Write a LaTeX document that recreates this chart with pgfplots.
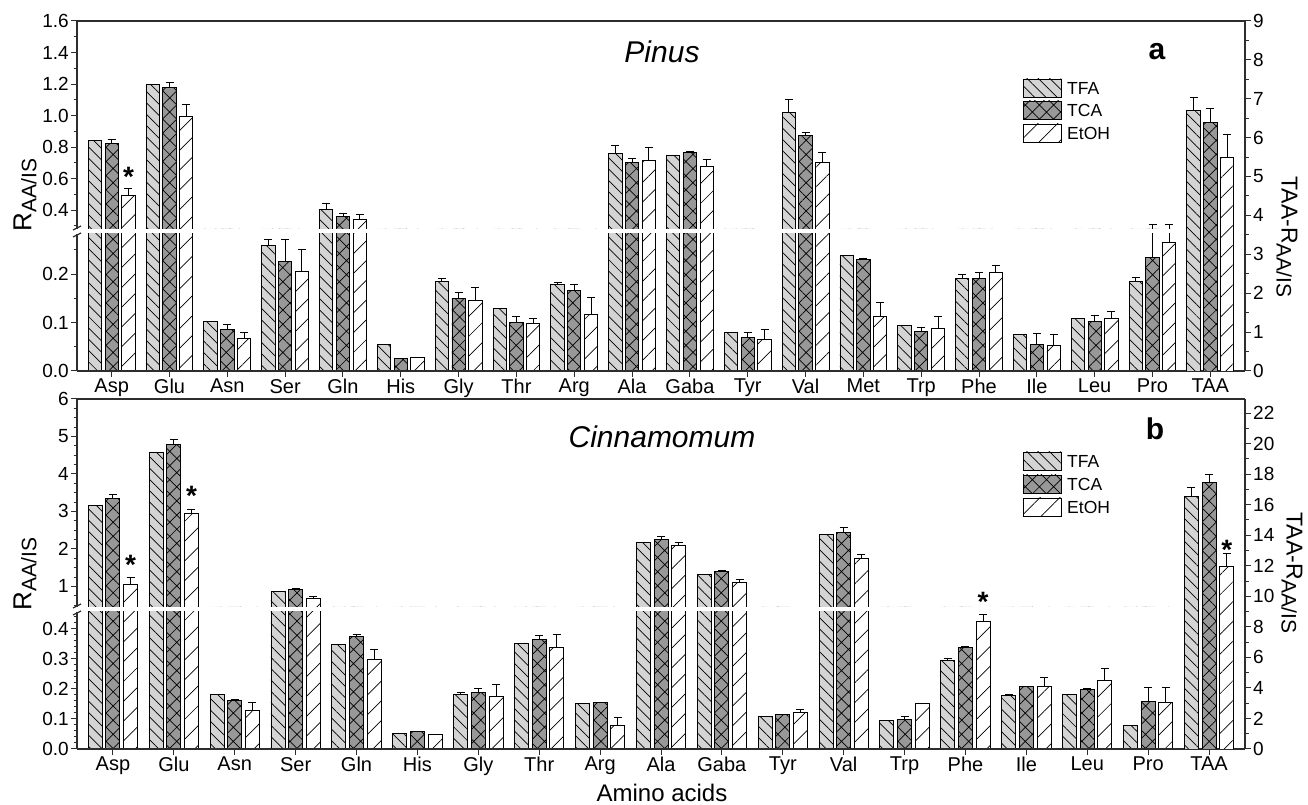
\documentclass[border=0pt]{standalone}
\usepackage{fontspec}
\setmainfont{Liberation Sans}
\usepackage{pgfplots}
\pgfplotsset{compat=1.18}
\usepackage{pgfplotstable}
\usetikzlibrary{patterns.meta}

\definecolor{tfagray}{RGB}{212,212,212}
\definecolor{tcagray}{RGB}{152,152,152}
\definecolor{axgray}{RGB}{45,45,45}

% Pinus (left axis, R_AA/IS)
\pgfplotstableread{
x a ae b be c ce
0 0.840 0.000 0.820 0.030 0.494 0.045
1 1.196 0.000 1.180 0.028 0.995 0.078
2 0.102 0.000 0.085 0.012 0.067 0.012
3 0.258 0.014 0.225 0.047 0.205 0.045
4 0.402 0.040 0.357 0.022 0.343 0.027
5 0.054 0.000 0.026 0.000 0.027 0.000
6 0.184 0.007 0.150 0.011 0.145 0.027
7 0.128 0.000 0.100 0.013 0.098 0.010
8 0.179 0.004 0.166 0.012 0.117 0.034
9 0.759 0.051 0.704 0.026 0.715 0.085
10 0.745 0.000 0.768 0.003 0.674 0.045
11 0.080 0.000 0.069 0.010 0.065 0.020
12 1.019 0.085 0.872 0.019 0.702 0.062
13 0.238 0.000 0.230 0.002 0.112 0.029
14 0.093 0.000 0.081 0.008 0.088 0.024
15 0.190 0.010 0.190 0.013 0.204 0.014
16 0.076 0.000 0.055 0.023 0.052 0.024
17 0.109 0.000 0.103 0.011 0.108 0.014
18 0.184 0.008 0.234 0.073 0.265 0.043
}\pinus
% Pinus TAA (right axis)
\pgfplotstableread{
x a ae b be c ce
19 6.70 0.33 6.39 0.36 5.50 0.59
}\pinusT
% Cinnamomum (left axis)
\pgfplotstableread{
x a ae b be c ce
0 3.170 0.000 3.350 0.100 1.064 0.170
1 4.570 0.000 4.790 0.140 2.940 0.100
2 0.181 0.000 0.161 0.002 0.127 0.026
3 0.858 0.000 0.910 0.040 0.690 0.040
4 0.348 0.000 0.374 0.006 0.298 0.033
5 0.051 0.000 0.058 0.000 0.049 0.000
6 0.182 0.006 0.189 0.011 0.173 0.040
7 0.352 0.000 0.364 0.012 0.338 0.041
8 0.152 0.000 0.153 0.002 0.078 0.028
9 2.170 0.000 2.260 0.080 2.100 0.060
10 1.310 0.000 1.410 0.010 1.107 0.070
11 0.109 0.000 0.116 0.000 0.120 0.010
12 2.380 0.000 2.450 0.110 1.750 0.090
13 0.095 0.000 0.098 0.009 0.150 0.000
14 0.295 0.005 0.338 0.002 0.425 0.022
15 0.178 0.004 0.207 0.000 0.207 0.030
16 0.181 0.000 0.199 0.002 0.226 0.043
17 0.078 0.000 0.158 0.048 0.153 0.051
}\cinn
\pgfplotstableread{
x a ae b be c ce
18 16.54 0.59 17.44 0.54 11.94 0.87
}\cinnT

\tikzset{
  tfa/.style={draw=black, line width=0.9pt, fill=tfagray,
    postaction={pattern={Lines[angle=-45,distance=8pt,line width=0.7pt]}}},
  tca/.style={draw=black, line width=0.9pt, fill=tcagray,
    postaction={pattern={Hatch[angle=45,distance=10pt,line width=0.7pt]}}},
  eth/.style={draw=black, line width=0.9pt, fill=white,
    postaction={pattern={Lines[angle=45,distance=14pt,line width=0.7pt]}}},
  star/.style={font=\bfseries\fontsize{28}{28}\selectfont, anchor=base, inner sep=0pt, yshift=-16pt},
}

\pgfplotsset{
  common/.style={scale only axis, width=1168pt, enlargelimits=false, clip=true, axis on top,
    axis line style={line width=1.3pt, draw=axgray},
    yticklabel style={font=\fontsize{19}{19}\selectfont, inner sep=2pt},
    xticklabel style={font=\fontsize{20}{20}\selectfont, inner sep=2pt},
  },
  ticks/.style={tick align=outside, major tick length=6pt, minor tick length=3.5pt,
    every tick/.style={line width=1pt, draw=axgray}},
  eb/.style={draw=none, mark=none, forget plot, error bars/.cd, y dir=plus, y explicit,
    error bar style={line width=0.9pt, draw=black, solid},
    error mark options={rotate=90, mark size=4pt, line width=0.9pt, draw=black, solid}},
  TF/.style={ybar, bar width=0.23, bar shift=-0.29, tfa},
  TC/.style={ybar, bar width=0.23, bar shift=0, tca},
  TE/.style={ybar, bar width=0.23, bar shift=0.29, eth},
}

\newcommand{\allbars}[1]{%
  \addplot[TF] table[x=x,y=a]{#1};
  \addplot[TC] table[x=x,y=b]{#1};
  \addplot[TE] table[x=x,y=c]{#1};
  \addplot[eb] table[x expr=\thisrow{x}-0.29,y=a,y error=ae]{#1};
  \addplot[eb] table[x=x,y=b,y error=be]{#1};
  \addplot[eb] table[x expr=\thisrow{x}+0.29,y=c,y error=ce]{#1};
}

\begin{document}
\begin{tikzpicture}
\useasboundingbox (0,0) rectangle (1308pt,805pt);

% ================= Panel a: Pinus =================
% upper segment
\begin{axis}[common, at={(77pt,576pt)}, anchor=south west, height=208pt,
  xmin=-0.6, xmax=19.6, ymin=0.28, ymax=1.6,
  axis x line*=top, axis y line*=left, ticks, xtick=\empty,
  ytick={0.4,0.6,0.8,1.0,1.2,1.4,1.6}, yticklabels={0.4,0.6,0.8,1.0,1.2,1.4,1.6},
  minor ytick={0.3,0.5,0.7,0.9,1.1,1.3,1.5}]
  \allbars{\pinus}
  \node[star] at (axis cs:0.29,0.649) {*};
\end{axis}
% lower segment
\begin{axis}[common, at={(77pt,434pt)}, anchor=south west, height=137pt,
  xmin=-0.6, xmax=19.6, ymin=0, ymax=0.2825,
  axis x line*=bottom, axis y line*=left, ticks,
  xtick={0,...,19},
  xticklabels={Asp,Glu,Asn,Ser,Gln,His,Gly,Thr,Arg,Ala,Gaba,Tyr,Val,Met,Trp,Phe,Ile,Leu,Pro,TAA},
  ytick={0,0.1,0.2}, yticklabels={0.0,0.1,0.2}, minor ytick={0.05,0.15,0.25}]
  \allbars{\pinus}
\end{axis}
% right axis (TAA)
\begin{axis}[common, at={(77pt,434pt)}, anchor=south west, height=350pt,
  xmin=-0.6, xmax=19.6, ymin=0, ymax=9,
  axis x line=none, axis y line*=right, ticks,
  ytick={0,1,2,3,4,5,6,7,8,9}, yticklabels={0,1,2,3,4,5,6,7,8,9},
  minor ytick={0.5,1.5,2.5,3.5,4.5,5.5,6.5,7.5,8.5}]
  \allbars{\pinusT}
\end{axis}

% ================= Panel b: Cinnamomum =================
\begin{axis}[common, at={(77pt,198pt)}, anchor=south west, height=208pt,
  xmin=-0.59, xmax=18.59, ymin=0.45, ymax=6,
  axis x line*=top, axis y line*=left, ticks, xtick=\empty,
  ytick={1,2,3,4,5,6}, yticklabels={1,2,3,4,5,6},
  minor ytick={0.5,0.75,1.25,1.5,1.75,2.25,2.5,2.75,3.25,3.5,3.75,4.25,4.5,4.75,5.25,5.5,5.75}]
  \allbars{\cinn}
  \node[star] at (axis cs:0.29,1.74) {*};
  \node[star] at (axis cs:1.29,3.59) {*};
  \node[star] at (axis cs:14.29,0.75) {*};
\end{axis}
\begin{axis}[common, at={(77pt,56pt)}, anchor=south west, height=137pt,
  xmin=-0.59, xmax=18.59, ymin=0, ymax=0.455,
  axis x line*=bottom, axis y line*=left, ticks,
  xtick={0,...,18},
  xticklabels={Asp,Glu,Asn,Ser,Gln,His,Gly,Thr,Arg,Ala,Gaba,Tyr,Val,Trp,Phe,Ile,Leu,Pro,TAA},
  ytick={0,0.1,0.2,0.3,0.4}, yticklabels={0.0,0.1,0.2,0.3,0.4},
  minor ytick={0.02,0.04,0.06,0.08,0.12,0.14,0.16,0.18,0.22,0.24,0.26,0.28,0.32,0.34,0.36,0.38,0.42,0.44}]
  \allbars{\cinn}
\end{axis}
\begin{axis}[common, at={(77pt,56pt)}, anchor=south west, height=350pt,
  xmin=-0.59, xmax=18.59, ymin=0, ymax=22.92,
  axis x line=none, axis y line*=right, ticks,
  ytick={0,2,4,6,8,10,12,14,16,18,20,22}, yticklabels={0,2,4,6,8,10,12,14,16,18,20,22},
  minor ytick={1,3,5,7,9,11,13,15,17,19,21}]
  \allbars{\cinnT}
  \node[star] at (axis cs:18.29,13.44) {*};
\end{axis}

% break marks on the left axes
\foreach \yy in {568,575,190,197}{
  \draw[axgray, line width=1.2pt] (73pt,\yy pt) -- (81pt,\yy pt+4pt);
}

% titles and panel letters
\node[font=\itshape\fontsize{30}{30}\selectfont] at (662pt,753pt) {Pinus};
\node[font=\bfseries\fontsize{30}{30}\selectfont] at (1157pt,753pt) {a};
\node[font=\itshape\fontsize{30}{30}\selectfont] at (662pt,368pt) {Cinnamomum};
\node[font=\bfseries\fontsize{30}{30}\selectfont] at (1155pt,376pt) {b};

% axis titles
\node[rotate=90] at (25pt,610pt) {\fontsize{26}{26}\selectfont R\raisebox{-5pt}{\fontsize{21}{21}\selectfont AA/IS}};
\node[rotate=90] at (25pt,231pt) {\fontsize{26}{26}\selectfont R\raisebox{-5pt}{\fontsize{21}{21}\selectfont AA/IS}};
\node[rotate=-90] at (1287pt,568pt) {\fontsize{23}{23}\selectfont TAA-R\raisebox{-5pt}{\fontsize{21}{21}\selectfont AA/IS}};
\node[rotate=-90] at (1292pt,232pt) {\fontsize{23}{23}\selectfont TAA-R\raisebox{-5pt}{\fontsize{21}{21}\selectfont AA/IS}};
\node[font=\fontsize{24}{24}\selectfont] at (662pt,12pt) {Amino acids};

% legends
\foreach \yb/\lab/\sty in {708/TFA/tfa,686/TCA/tca,663/EtOH/eth}{
  \draw[\sty] (1023pt,\yb pt) rectangle (1061pt,\yb pt+18pt);
  \node[anchor=west, inner sep=2pt, font=\fontsize{17.5}{17.5}\selectfont] at (1065pt,\yb pt+9pt) {\lab};
}
\foreach \yb/\lab/\sty in {335/TFA/tfa,312/TCA/tca,289/EtOH/eth}{
  \draw[\sty] (1023pt,\yb pt) rectangle (1061pt,\yb pt+18pt);
  \node[anchor=west, inner sep=2pt, font=\fontsize{17.5}{17.5}\selectfont] at (1065pt,\yb pt+9pt) {\lab};
}
\end{tikzpicture}
\end{document}
